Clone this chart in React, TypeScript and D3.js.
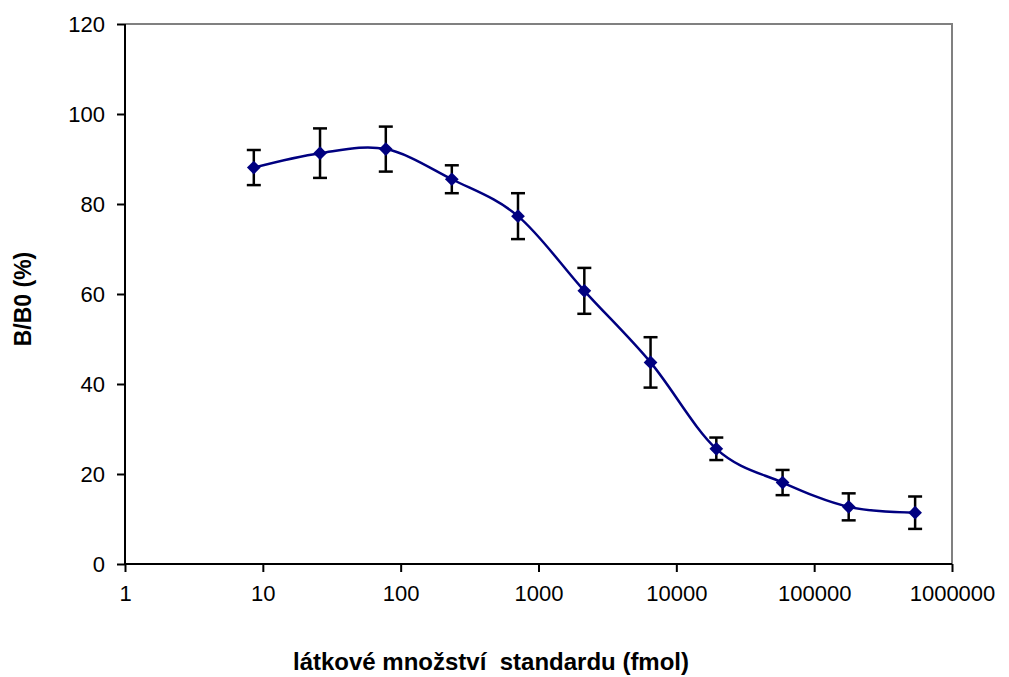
import React, { useEffect, useRef } from 'react';
import * as d3 from 'd3';

// standard amounts (fmol), binding ratio B/B0 (%) and its error (+/-)
const amounts = [8.6, 26, 78, 235, 710, 2150, 6500, 19500, 59000, 178000, 540000];
const bb0 = [88.1, 91.3, 92.2, 85.5, 77.3, 60.7, 44.8, 25.6, 18.1, 12.7, 11.4];
const errors = [3.9, 5.5, 5.0, 3.1, 5.1, 5.1, 5.6, 2.5, 2.8, 3.0, 3.6];

const xTicks = [1, 10, 100, 1000, 10000, 100000, 1000000];
const yTicks = [0, 20, 40, 60, 80, 100, 120];

const xTitle = 'látkové množství  standardu (fmol)';
const yTitle = 'B/B0 (%)';

const width = 1009;
const height = 677;
const margin = { top: 24, right: 57, bottom: 113, left: 125 };

const App = () => {
  const ref = useRef<SVGSVGElement>(null);

  useEffect(() => {
    const svg = d3.select(ref.current);
    svg.selectAll('*').remove();

    const x = d3
      .scaleLog()
      .domain([1, 1000000])
      .range([margin.left, width - margin.right]);
    const y = d3
      .scaleLinear()
      .domain([0, 120])
      .range([height - margin.bottom, margin.top]);

    const font = 'Liberation Sans, Arial, sans-serif';

    // plot area border (grey, top and right)
    svg
      .append('path')
      .attr('d', `M${x(1)},${y(120)}H${x(1000000)}V${y(0)}`)
      .attr('fill', 'none')
      .attr('stroke', '#808080')
      .attr('stroke-width', 2);

    // y axis
    const yAxis = svg
      .append('g')
      .attr('transform', `translate(${x(1)},0)`)
      .call(d3.axisLeft(y).tickValues(yTicks).tickSize(8).tickPadding(12));
    // x axis
    const xAxis = svg
      .append('g')
      .attr('transform', `translate(0,${y(0)})`)
      .call(
        d3
          .axisBottom(x)
          .tickValues(xTicks)
          .tickFormat((d) => String(d))
          .tickSize(8)
          .tickPadding(13)
      );

    [xAxis, yAxis].forEach((g) => {
      g.select('.domain').remove();
      g.selectAll('.tick line').attr('stroke', '#000').attr('stroke-width', 2);
      g.selectAll('.tick text')
        .attr('fill', '#000')
        .style('font-family', font)
        .style('font-size', '22px');
    });
    // axis lines without the outer ticks
    svg
      .append('line')
      .attr('x1', x(1)).attr('x2', x(1))
      .attr('y1', y(120)).attr('y2', y(0))
      .attr('stroke', '#000').attr('stroke-width', 2);
    svg
      .append('line')
      .attr('x1', x(1)).attr('x2', x(1000000))
      .attr('y1', y(0)).attr('y2', y(0))
      .attr('stroke', '#000').attr('stroke-width', 2);

    const data = amounts.map((a, i) => ({ a, v: bb0[i], e: errors[i] }));

    // smoothed line
    const line = d3
      .line<{ a: number; v: number }>()
      .x((d) => x(d.a))
      .y((d) => y(d.v))
      .curve(d3.curveCardinal.tension(0));
    svg
      .append('path')
      .datum(data)
      .attr('d', line)
      .attr('fill', 'none')
      .attr('stroke', '#000080')
      .attr('stroke-width', 2.5);

    // error bars
    const bars = svg.append('g').attr('stroke', '#000').attr('stroke-width', 2.5);
    data.forEach((d) => {
      const cx = x(d.a);
      const top = y(d.v + d.e);
      const bot = y(d.v - d.e);
      bars.append('line').attr('x1', cx).attr('x2', cx).attr('y1', top).attr('y2', bot);
      bars.append('line').attr('x1', cx - 7).attr('x2', cx + 7).attr('y1', top).attr('y2', top);
      bars.append('line').attr('x1', cx - 7).attr('x2', cx + 7).attr('y1', bot).attr('y2', bot);
    });

    // diamond markers
    const diamond = d3.symbol().type(d3.symbolDiamond2).size(120);
    svg
      .append('g')
      .selectAll('path')
      .data(data)
      .enter()
      .append('path')
      .attr('d', diamond)
      .attr('transform', (d) => `translate(${x(d.a)},${y(d.v)})`)
      .attr('fill', '#000080');

    // axis titles
    svg
      .append('text')
      .attr('x', 491)
      .attr('y', 670)
      .attr('text-anchor', 'middle')
      .style('font-family', font)
      .style('font-size', '24px')
      .style('font-weight', 'bold')
      .style('white-space', 'pre')
      .text(xTitle);
    svg
      .append('text')
      .attr('transform', `translate(31,${(y(0) + y(120)) / 2 + 5}) rotate(-90)`)
      .attr('text-anchor', 'middle')
      .style('font-family', font)
      .style('font-size', '23px')
      .style('font-weight', 'bold')
      .text(yTitle);
  }, []);

  return (
    <svg
      ref={ref}
      width={width}
      height={height}
      style={{ position: 'absolute', left: 0, top: 0, background: '#fff' }}
    />
  );
};

export default App;
